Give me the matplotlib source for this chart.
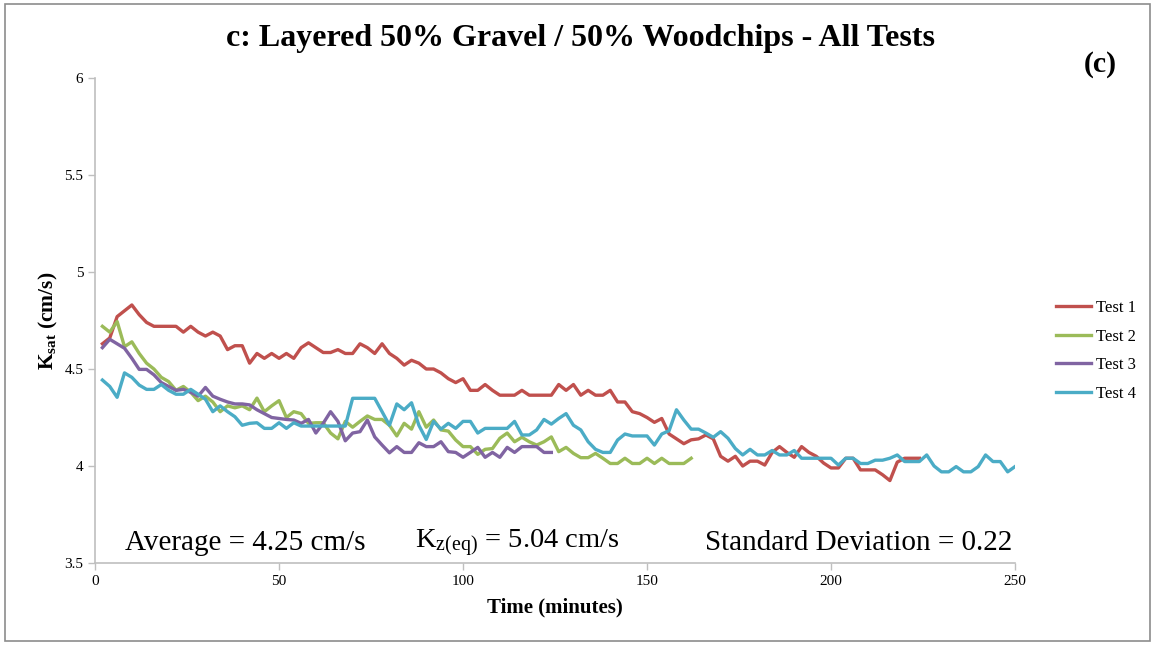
import numpy as np
import matplotlib
matplotlib.use("Agg")
import matplotlib.pyplot as plt
from matplotlib.patches import Rectangle

plt.rcParams['font.family'] = ['Liberation Serif', 'DejaVu Serif']
plt.rcParams['mathtext.fontset'] = 'custom'
plt.rcParams['mathtext.rm'] = 'Liberation Serif'
plt.rcParams['mathtext.it'] = 'Liberation Serif:italic'
plt.rcParams['mathtext.bf'] = 'Liberation Serif:bold'

# readings every 2 minutes
time = np.arange(2, 252, 2)

test1 = [4.63, 4.66, 4.77, 4.80, 4.83, 4.78, 4.74, 4.72, 4.72, 4.72,
         4.72, 4.69, 4.72, 4.69, 4.67, 4.69, 4.67, 4.60, 4.62, 4.62,
         4.53, 4.58, 4.555, 4.58, 4.555, 4.58, 4.555, 4.61, 4.635, 4.61,
         4.585, 4.585, 4.60, 4.58, 4.58, 4.63, 4.61, 4.58, 4.63, 4.58,
         4.555, 4.52, 4.545, 4.53, 4.50, 4.50, 4.48, 4.45, 4.43, 4.45,
         4.39, 4.39, 4.42, 4.39, 4.365, 4.365, 4.365, 4.39, 4.365, 4.365,
         4.365, 4.365, 4.42, 4.39, 4.42, 4.365, 4.39, 4.365, 4.365, 4.39,
         4.33, 4.33, 4.28, 4.27, 4.25, 4.225, 4.245, 4.165, 4.14, 4.115,
         4.135, 4.14, 4.16, 4.14, 4.05, 4.025, 4.05, 4.00, 4.025, 4.025,
         4.005, 4.07, 4.10, 4.07, 4.045, 4.10, 4.07, 4.05, 4.015, 3.99,
         3.99, 4.04, 4.04, 3.98, 3.98, 3.98, 3.955, 3.925, 4.02, 4.04,
         4.04, 4.04]

test2 = [4.72, 4.69, 4.745, 4.615, 4.64, 4.58, 4.53, 4.50, 4.457, 4.435,
         4.39, 4.41, 4.38, 4.337, 4.36, 4.33, 4.28, 4.31, 4.30, 4.31,
         4.29, 4.35, 4.28, 4.31, 4.337, 4.25, 4.28, 4.27, 4.22, 4.223,
         4.223, 4.17, 4.14, 4.23, 4.20, 4.23, 4.258, 4.24, 4.24, 4.21,
         4.155, 4.22, 4.19, 4.28, 4.20, 4.237, 4.186, 4.18, 4.134, 4.10,
         4.10, 4.06, 4.086, 4.09, 4.143, 4.17, 4.125, 4.148, 4.125, 4.108,
         4.125, 4.15, 4.074, 4.096, 4.065, 4.043, 4.043, 4.065, 4.04, 4.013,
         4.013, 4.04, 4.013, 4.013, 4.04, 4.013, 4.04, 4.013, 4.013, 4.013,
         4.04]

test3 = [4.61, 4.653, 4.63, 4.607, 4.555, 4.498, 4.498, 4.47, 4.43, 4.41,
         4.39, 4.395, 4.38, 4.36, 4.405, 4.36, 4.344, 4.33, 4.32, 4.32,
         4.315, 4.29, 4.27, 4.25, 4.245, 4.24, 4.237, 4.22, 4.24, 4.17,
         4.22, 4.28, 4.23, 4.13, 4.17, 4.177, 4.237, 4.15, 4.108, 4.068,
         4.10, 4.07, 4.07, 4.12, 4.10, 4.10, 4.125, 4.074, 4.07, 4.045,
         4.07, 4.096, 4.045, 4.07, 4.045, 4.096, 4.07, 4.10, 4.10, 4.10,
         4.07, 4.07]

test4 = [4.443, 4.41, 4.354, 4.48, 4.457, 4.417, 4.395, 4.395, 4.42, 4.39,
         4.37, 4.37, 4.395, 4.37, 4.344, 4.28, 4.31, 4.28, 4.254, 4.21,
         4.22, 4.223, 4.194, 4.194, 4.223, 4.194, 4.223, 4.206, 4.206, 4.206,
         4.206, 4.206, 4.206, 4.206, 4.349, 4.349, 4.349, 4.349, 4.28, 4.21,
         4.32, 4.29, 4.326, 4.21, 4.137, 4.23, 4.19, 4.22, 4.194, 4.23,
         4.23, 4.17, 4.194, 4.194, 4.194, 4.194, 4.23, 4.16, 4.16, 4.186,
         4.24, 4.216, 4.245, 4.27, 4.21, 4.186, 4.125, 4.086, 4.07, 4.07,
         4.134, 4.165, 4.155, 4.155, 4.155, 4.108, 4.165, 4.182, 4.29, 4.237,
         4.19, 4.19, 4.17, 4.148, 4.177, 4.143, 4.09, 4.057, 4.086, 4.057,
         4.057, 4.08, 4.057, 4.057, 4.08, 4.04, 4.04, 4.04, 4.04, 4.04,
         4.005, 4.04, 4.04, 4.013, 4.013, 4.03, 4.03, 4.04, 4.057, 4.023,
         4.023, 4.023, 4.057, 4.0, 3.97, 3.97, 3.997, 3.97, 3.97, 3.997,
         4.057, 4.023, 4.023, 3.97, 3.997]

series = [("Test 1", test1, "#C0504D"),
          ("Test 2", test2, "#9BBB59"),
          ("Test 3", test3, "#8064A2"),
          ("Test 4", test4, "#4BACC6")]

fig = plt.figure(figsize=(11.55, 6.45), dpi=100)
ax = fig.add_axes([0.0823, 0.1271, 0.7965, 0.752])

for name, vals, col in series:
    ax.plot(time[:len(vals)], vals, color=col, lw=2.4, label=name,
            solid_joinstyle='round')

ax.set_xlim(0, 250)
ax.set_ylim(3.5, 6)
ax.set_xticks([0, 50, 100, 150, 200, 250])
ax.set_yticks([3.5, 4, 4.5, 5, 5.5, 6])
ax.set_yticklabels(["3.5", "4", "4.5", "5", "5.5", "6"])
for s in ["top", "right"]:
    ax.spines[s].set_visible(False)
for s in ["left", "bottom"]:
    ax.spines[s].set_color("#BFBFBF")
    ax.spines[s].set_linewidth(1.2)
ax.tick_params(colors="#BFBFBF", labelcolor="black", labelsize=11,
               length=5, width=1.0)

ax.set_xlabel("Time (minutes)", fontsize=15, fontweight="bold", labelpad=7)
ax.set_ylabel(r"$\mathbf{K_{sat}}$ (cm/s)", fontsize=15.5, fontweight="bold",
              labelpad=3)

fig.text(0.503, 0.940, "c: Layered 50% Gravel / 50% Woodchips - All Tests",
         ha="center", va="center", fontsize=23, fontweight="bold")
fig.text(0.953, 0.900, "(c)", ha="center", va="center", fontsize=21.5,
         fontweight="bold")

ax.text(0.0326, 0.041, "Average = 4.25 cm/s", transform=ax.transAxes,
        fontsize=21, ha="left", va="center")
ax.text(0.348, 0.041, r"K$_{\mathrm{z(eq)}}$ = 5.04 cm/s",
        transform=ax.transAxes, fontsize=20.5, ha="left", va="center")
ax.text(0.9967, 0.041, "Standard Deviation = 0.22", transform=ax.transAxes,
        fontsize=21, ha="right", va="center")

ax.legend(loc="center left", bbox_to_anchor=(1.028, 0.437), frameon=False,
          fontsize=12, handlelength=2.1, labelspacing=0.75,
          handletextpad=0.3)

fig.patches.append(Rectangle((0.004, 0.006), 0.992, 0.988,
                             transform=fig.transFigure, fill=False,
                             edgecolor="#8C8C8C", lw=1.2))

fig.savefig("out.png", dpi=100)
